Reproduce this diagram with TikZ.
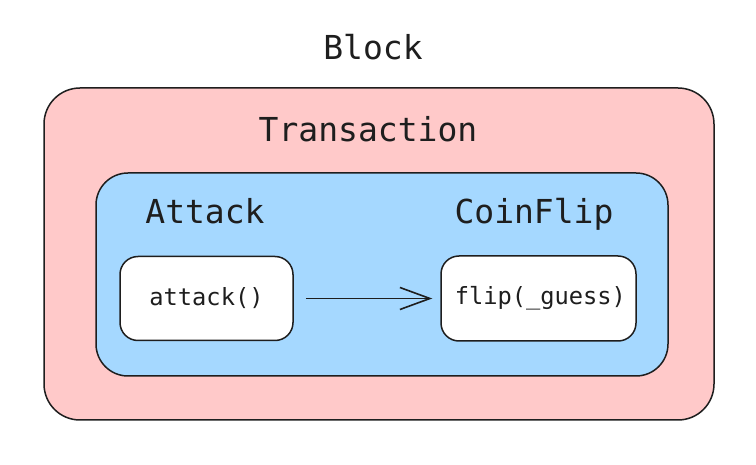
\documentclass[tikz,border=0pt]{standalone}
\usepackage{xcolor}
\usepackage{fontspec}
\setmonofont{DejaVu Sans Mono}
\usepackage{tikz}
\usetikzlibrary{arrows.meta,positioning}
\definecolor{TxPink}{HTML}{FFC9C9}
\definecolor{TxBlue}{HTML}{A5D8FF}
\definecolor{TxInk} {HTML}{1E1E1E}
\definecolor{TxWhite}{HTML}{FFFFFF}
\tikzset{
  bigtext/.style={font=\ttfamily\fontsize{33}{36}\selectfont,text=TxInk},
  fnbox/.style={draw=TxInk,line width=1.5pt,fill=TxWhite,rounded corners=18pt,
    font=\ttfamily\fontsize{23.7}{26}\selectfont,text=TxInk},
  callarrow/.style={draw=TxInk,line width=1.6pt,-{Straight Barb[length=30pt,width=22pt]}}
}

\begin{document}
\begin{tikzpicture}[x=1pt,y=-1pt]
    \useasboundingbox (0,0) rectangle (756,465);
    % Block / Transaction
    \node[bigtext] (block) at (373,47) {Block};
    \draw[TxInk,line width=1.5pt,fill=TxPink,rounded corners=36pt] (44,88) rectangle (714,420);
    \node[bigtext] (tx) at (368,129) {Transaction};

    % contracts
    \draw[TxInk,line width=1.5pt,fill=TxBlue,rounded corners=32pt] (96,173) rectangle (668,376);
    \node[bigtext] (attackc) at (205,211) {Attack};
    \node[bigtext] (coinflip) at (534,214) {CoinFlip};

    % calls
    \node[fnbox,minimum width=173pt,minimum height=84pt] (attack) at (206.5,298.5) {attack()};
    \node[fnbox,minimum width=195pt,minimum height=85pt,text width=175pt,align=right] (flip) at (538.5,298.5) {flip(\_guess)};
    \draw[callarrow,shorten <=12pt,shorten >=8pt] (attack.east) -- (flip.west);
  \end{tikzpicture}
\end{document}
